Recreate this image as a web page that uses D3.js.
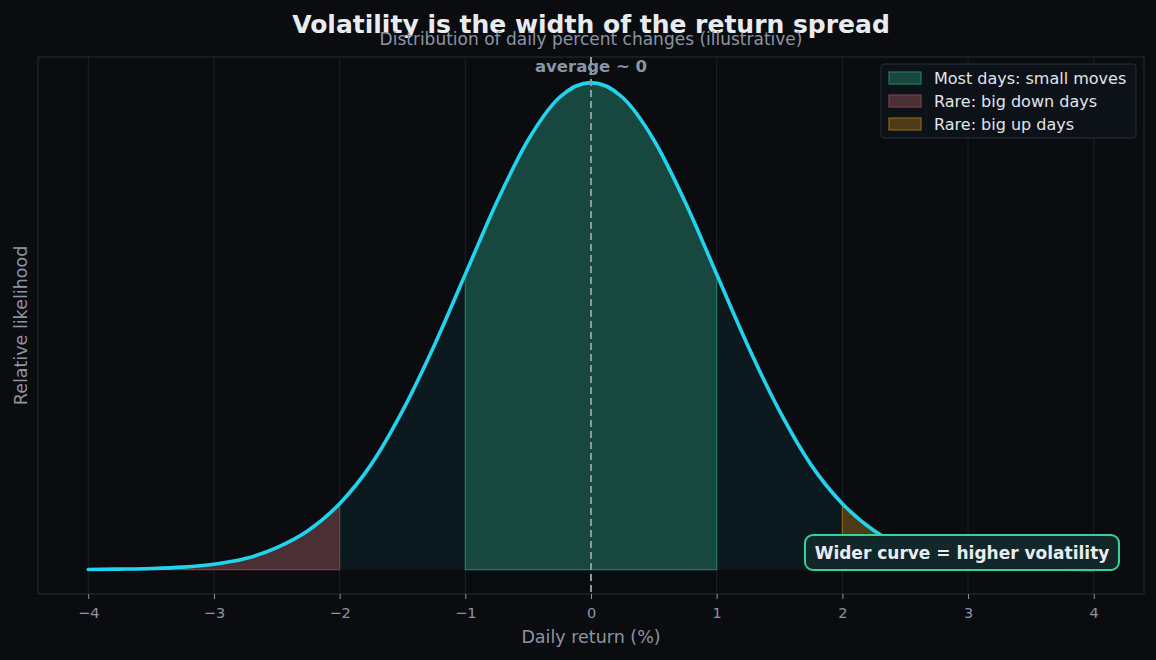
<!DOCTYPE html>
<html><head><meta charset="utf-8">
<script src="https://cdn.jsdelivr.net/npm/d3@7"></script>
<style>
html,body{margin:0;padding:0;background:#0b0c10;}
svg{display:block;font-family:"DejaVu Sans",sans-serif;}
</style></head>
<body>
<svg id="chart" width="1156" height="660"></svg>
<script>
// Daily return (%) sample points and relative likelihood
const returns = [-4,-3.75,-3.5,-3.25,-3,-2.75,-2.5,-2.25,-2,-1.75,-1.5,-1.25,-1,-0.75,-0.5,-0.25,0,0.25,0.5,0.75,1,1.25,1.5,1.75,2,2.25,2.5,2.75,3,3.25,3.5,3.75,4];
const likelihood = [0.0001,0.0004,0.0009,0.002,0.0044,0.009,0.018,0.032,0.054,0.086,0.130,0.183,0.242,0.301,0.352,0.387,0.399,0.387,0.352,0.301,0.242,0.183,0.130,0.086,0.054,0.032,0.018,0.009,0.0044,0.002,0.0009,0.0004,0.0001];
const xTicks = [-4,-3,-2,-1,0,1,2,3,4];
const regions = [
  {name:"Most days: small moves", from:-1, to:1, fill:"#17473f", stroke:"#237a5d"},
  {name:"Rare: big down days", from:-4, to:-2, fill:"#4a2f35", stroke:"#7a3f47"},
  {name:"Rare: big up days", from:2, to:4, fill:"#4d3a17", stroke:"#8a6418"}
];
const titleText = "Volatility is the width of the return spread";
const subtitleText = "Distribution of daily percent changes (illustrative)";
const noteText = "Wider curve = higher volatility";

const data = returns.map((r,i)=>({x:r,y:likelihood[i]}));
const svg = d3.select("#chart");
const L=38,R=1144,T=57,B=594;
const x = d3.scaleLinear().domain([-4.4,4.4]).range([L,R]);
const y = d3.scaleLinear().domain([-0.02,0.42]).range([B,T]);

// grid
svg.append("g").selectAll("line").data(xTicks).join("line")
  .attr("x1",d=>x(d)).attr("x2",d=>x(d)).attr("y1",T).attr("y2",B)
  .attr("stroke","#1b2028").attr("stroke-width",1);

const area = d3.area().x(d=>x(d.x)).y0(y(0)).y1(d=>y(d.y)).curve(d3.curveMonotoneX);
const line = d3.line().x(d=>x(d.x)).y(d=>y(d.y)).curve(d3.curveMonotoneX);

// faint full fill
svg.append("path").datum(data).attr("d",area).attr("fill","#0c1a20");

regions.forEach(rg=>{
  const pts = data.filter(d=>d.x>=rg.from-1e-9 && d.x<=rg.to+1e-9);
  svg.append("path").datum(pts).attr("d",area)
    .attr("fill",rg.fill).attr("stroke",rg.stroke).attr("stroke-width",1.2);
});

// frame
svg.append("rect").attr("x",L).attr("y",T).attr("width",R-L).attr("height",B-T)
  .attr("fill","none").attr("stroke","#1f2a33").attr("stroke-width",1.2);

// curve
svg.append("path").datum(data).attr("d",line).attr("fill","none")
  .attr("stroke","#22d3ee").attr("stroke-width",3.6).attr("stroke-linecap","round");

// mean line
svg.append("line").attr("x1",x(0)).attr("x2",x(0)).attr("y1",T).attr("y2",B)
  .attr("stroke","#8b98a6").attr("stroke-width",2).attr("stroke-dasharray","7,4");
svg.append("text").attr("x",x(0)).attr("y",72).attr("text-anchor","middle")
  .attr("fill","#8b95a3").attr("font-size",16.5).attr("font-weight","bold").text("average ~ 0");

// x axis
const ax = svg.append("g").attr("transform",`translate(0,${B})`)
  .call(d3.axisBottom(x).tickValues(xTicks).tickSize(5).tickPadding(9).tickFormat(d=>d<0?"\u2212"+Math.abs(d):d));
ax.select(".domain").remove();
ax.selectAll(".tick line").attr("stroke","#8b95a3");
ax.selectAll(".tick text").attr("fill","#8b95a3").attr("font-size",14.5).attr("font-family","DejaVu Sans");

svg.append("text").attr("x",(L+R)/2).attr("y",643).attr("text-anchor","middle")
  .attr("fill","#8b95a3").attr("font-size",17.5).text("Daily return (%)");
svg.append("text").attr("transform",`translate(27,${(T+B)/2}) rotate(-90)`).attr("text-anchor","middle")
  .attr("fill","#8b95a3").attr("font-size",17.5).text("Relative likelihood");

// title
svg.append("text").attr("x",591).attr("y",33).attr("text-anchor","middle")
  .attr("fill","#e8ecf1").attr("font-size",25).attr("font-weight","bold").text(titleText);
svg.append("text").attr("x",591).attr("y",45).attr("text-anchor","middle")
  .attr("fill","#8b95a3").attr("font-size",17).text(subtitleText);

// legend
const lg = svg.append("g").attr("transform","translate(881,64)");
lg.append("rect").attr("width",255).attr("height",74).attr("rx",3)
  .attr("fill","#0d1218").attr("stroke","#262e38").attr("stroke-width",1);
regions.forEach((rg,i)=>{
  const gy = 8+i*23;
  lg.append("rect").attr("x",8).attr("y",gy).attr("width",32).attr("height",12)
    .attr("fill",rg.fill).attr("stroke",rg.stroke).attr("stroke-width",1.2);
  lg.append("text").attr("x",53).attr("y",gy+11.5).attr("fill","#e0e4ea").attr("font-size",16).text(rg.name);
});

// note
const ng = svg.append("g");
ng.append("rect").attr("x",805).attr("y",535).attr("width",314).attr("height",35).attr("rx",8)
  .attr("fill","#11272a").attr("stroke","#34d399").attr("stroke-width",2);
ng.append("text").attr("x",962).attr("y",558.5).attr("text-anchor","middle")
  .attr("fill","#e8ecf1").attr("font-size",17).attr("font-weight","bold").text(noteText);
</script>
</body></html>
